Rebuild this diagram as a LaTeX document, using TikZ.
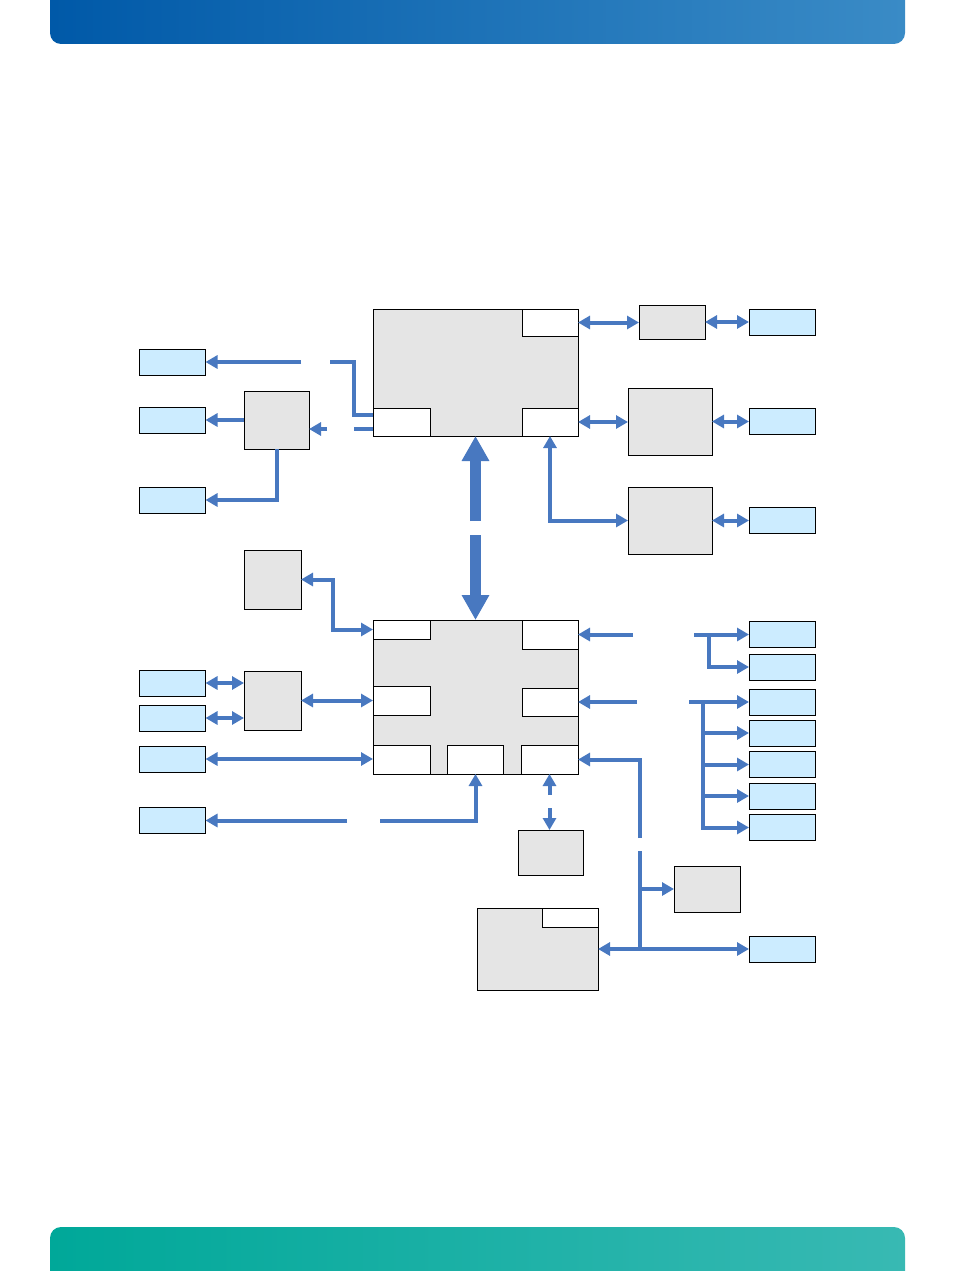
\documentclass[tikz,border=0pt]{standalone}
\usepackage{xcolor}
\usepackage{tikz}
\usetikzlibrary{arrows.meta,positioning}
\definecolor{lineblue}{HTML}{4878C0}
\definecolor{boxblue}{HTML}{CCECFF}
\definecolor{boxgray}{HTML}{E5E5E5}
\definecolor{hdrL}{HTML}{0059A8}
\definecolor{hdrM}{HTML}{0074BB}
\definecolor{hdrR}{HTML}{3A8BC6}
\definecolor{ftrL}{HTML}{00A899}
\definecolor{ftrR}{HTML}{38B9B3}

\begin{document}
\begin{tikzpicture}[x=1pt, y=-1pt,
    blk/.style={draw, line width=0.8pt, inner sep=0pt, outer sep=0pt, fill=boxgray},
    port/.style={draw, line width=0.8pt, inner sep=0pt, outer sep=0pt, fill=white},
    ext/.style={draw, line width=0.8pt, inner sep=0pt, outer sep=0pt, fill=boxblue, minimum width=66pt, minimum height=26pt},
    wire/.style={draw=lineblue, line width=4pt},
    arr/.style={wire, -{Triangle[length=12pt,width=13pt]}},
    dbl/.style={wire, {Triangle[length=12pt,width=13pt]}-{Triangle[length=12pt,width=13pt]}},
    bus/.style={draw=lineblue, line width=11pt, -{Triangle[length=25pt,width=26pt]}}
]
\useasboundingbox (0,0) rectangle (954,1271);

% page bars
\shade[left color=hdrL, middle color=hdrM, right color=hdrR] (50,0) [rounded corners=11pt] -- (50,44) -- (905,44) [sharp corners] -- (905,0) -- cycle;
\shade[left color=ftrL, right color=ftrR] (50,1271) [rounded corners=11pt] -- (50,1227) -- (905,1227) [sharp corners] -- (905,1271) -- cycle;

% processor
\node[blk, minimum width=205pt, minimum height=127pt] (cpu) at (475.5,372.5) {};
\node[port, minimum width=56pt, minimum height=27pt, anchor=north east] (cpuTR) at (cpu.north east) {};
\node[port, minimum width=57pt, minimum height=28pt, anchor=south west] (cpuBL) at (cpu.south west) {};
\node[port, minimum width=56pt, minimum height=28pt, anchor=south east] (cpuBR) at (cpu.south east) {};

\node[blk, minimum width=66pt, minimum height=34pt] (gA) at (672,322) {};
\node[blk, minimum width=84pt, minimum height=67pt] (gB) at (670,421.5) {};
\node[blk, minimum width=84pt, minimum height=67pt] (gC) at (670,520.5) {};
\node[ext] (bA) at (782,322.5) {};
\node[ext] (bB) at (782,421.5) {};
\node[ext] (bC) at (782,520) {};

\node[blk, minimum width=65pt, minimum height=58pt] (gL) at (276.5,420) {};
\node[ext] (bL1) at (172.5,362) {};
\node[ext] (bL2) at (172.5,420) {};
\node[ext] (bL3) at (172.5,500) {};

% chipset
\node[blk, minimum width=205pt, minimum height=154pt] (chip) at (475.5,697) {};
\node[port, minimum width=57pt, minimum height=19pt, anchor=north west] (cTL) at (chip.north west) {};
\node[port, minimum width=56pt, minimum height=29pt, anchor=north east] (cTR) at (chip.north east) {};
\node[port, minimum width=57pt, minimum height=29pt, anchor=west] (cML) at ([yshift=-3.5pt]chip.west) {};
\node[port, minimum width=56pt, minimum height=28pt, anchor=east] (cMR) at ([yshift=-5pt]chip.east) {};
\node[port, minimum width=57pt, minimum height=29pt, anchor=south west] (cBL) at (chip.south west) {};
\node[port, minimum width=56pt, minimum height=29pt, anchor=south] (cBM) at (chip.south) {};
\node[port, minimum width=57pt, minimum height=29pt, anchor=south east] (cBR) at (chip.south east) {};

\node[blk, minimum width=57pt, minimum height=59pt] (gM1) at (272.5,579.5) {};
\node[blk, minimum width=57pt, minimum height=59pt] (gM2) at (272.5,700.5) {};
\node[ext] (bM1) at (172.5,683) {};
\node[ext] (bM2) at (172.5,718) {};
\node[ext] (bM3) at (172.5,759) {};
\node[ext] (bM4) at (172.5,820.5) {};

\node[blk, minimum width=65pt, minimum height=45pt] (gS) at (550.5,852.5) {};
\node[blk, minimum width=66pt, minimum height=46pt] (gT) at (707,889) {};
\node[blk, minimum width=121pt, minimum height=82pt] (mem) at (537.5,949) {};
\node[port, minimum width=56pt, minimum height=19pt, anchor=north east] (memP) at (mem.north east) {};
\node[ext] (bX) at (782,949) {};

\foreach \n/\y in {1/634.5,2/667,3/702,4/733,5/764.5,6/796,7/827.5}
    \node[ext] (bR\n) at (782,\y) {};

% gaps in the broken lines
\coordinate (kA1) at (330,362);
\coordinate (kA2) at (301,362);
\coordinate (kB1) at (354,429);
\coordinate (kB2) at (327,429);
\coordinate (busA) at (475.5,521);
\coordinate (busB) at (475.5,535);
\coordinate (kC1) at (380,820.5);
\coordinate (kC2) at (347,820.5);
\coordinate (kD1) at (549.5,795);
\coordinate (kD2) at (549.5,808);
\coordinate (kE1) at (633,634.5);
\coordinate (kE2) at (694,634.5);
\coordinate (kF1) at (637,702);
\coordinate (kF2) at (689,702);
\coordinate (kG1) at (640,838);
\coordinate (kG2) at (640,851);
\coordinate (kG3) at (640,949);

% processor links
\draw[dbl] (cpuTR.east) -- (cpuTR.east -| gA.west);
\draw[dbl] (gA.east) -- (gA.east -| bA.west);
\draw[dbl] (cpuBR.east) -- (cpuBR.east -| gB.west);
\draw[dbl] (gB.east) -- (gB.east -| bB.west);
\draw[dbl] (cpuBR.south) |- (gC.west);
\draw[dbl] (gC.east) -- (gC.east -| bC.west);

\draw[wire] ([yshift=7pt]cpuBL.west) -- ++(-19,0) |- (kA1);
\draw[arr] (kA2) -- (kA2 -| bL1.east);
\draw[wire] ([yshift=-7pt]cpuBL.west) -- (kB1);
\draw[arr] (kB2) -- (kB2 -| gL.east);
\draw[arr] (gL.west) -- (gL.west -| bL2.east);
\draw[arr] (gL.south) |- (bL3.east);

\draw[bus] (busA) -- (cpu.south);
\draw[bus] (busB) -- (chip.north);

% chipset links
\draw[dbl] (gM1.east) -- ++(32,0) |- (cTL.west);
\draw[dbl] (gM2.east) -- (gM2.east -| cML.west);
\draw[dbl] (bM1.east) -- (bM1.east -| gM2.west);
\draw[dbl] (bM2.east) -- (bM2.east -| gM2.west);
\draw[dbl] (bM3.east) -- (bM3.east -| cBL.west);
\draw[arr] (kC1) -| (cBM.south);
\draw[arr] (kC2) -- (kC2 -| bM4.east);

\draw[arr] (kD1) -- (cBR.south);
\draw[arr] (kD2) -- (kD2 |- gS.north);

\draw[arr] (kE1) -- (kE1 -| cTR.east);
\draw[arr] (kE2) -- (kE2 -| bR1.west);
\draw[arr] (kE2) ++(15,0) |- (bR2.west);

\draw[arr] (kF1) -- (kF1 -| cMR.east);
\draw[arr] (kF2) -- (kF2 -| bR3.west);
\foreach \n in {4,...,7}
    \draw[arr] (kF2) ++(14,0) |- (bR\n.west);

\draw[arr] (kG1) |- (cBR.east);
\draw[wire] (kG2) -- (kG3);
\draw[arr] (kG2 |- gT.west) -- (gT.west);
\draw[arr] (kG3) -- (mem.east);
\draw[arr] (kG3) -- (kG3 -| bX.west);
\end{tikzpicture}
\end{document}
